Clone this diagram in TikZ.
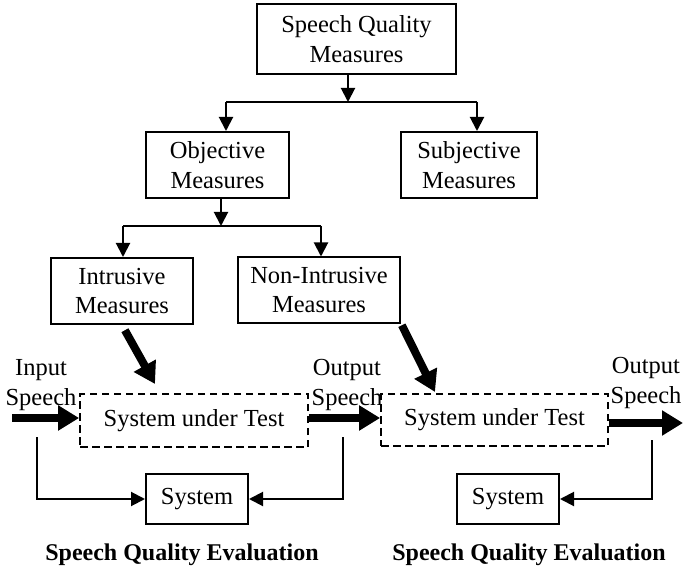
\documentclass[tikz,border=0pt]{standalone}
\usepackage{fontspec}
\setmainfont{Liberation Serif}
\usetikzlibrary{arrows.meta}
\begin{document}
\begin{tikzpicture}[x=1pt,y=-1pt,
  every node/.style={font=\fontsize{24.5}{29.5}\selectfont},
  box/.style={draw, line width=2pt, align=center, inner sep=0pt},
  dbox/.style={draw, line width=1.8pt, dash pattern=on 7.5pt off 4.5pt, inner sep=0pt},
  arr/.style={line width=2pt, -{Triangle[length=14pt,width=14pt]}},
  ln/.style={line width=2pt},
  fat/.style={line width=8pt, -{Triangle[length=21pt,width=24pt]}},
  lab/.style={align=center, inner sep=0pt},
  ev/.style={font=\fontsize{24}{28}\selectfont\bfseries, inner sep=0pt}]
\useasboundingbox (0,0) rectangle (683,572);

% boxes
\node[box, minimum width=199pt, minimum height=70pt] (sqm) at (356.5,39) {Speech Quality\\Measures};
\node[box, minimum width=143pt, minimum height=66pt] (obj) at (217.5,165) {Objective\\Measures};
\node[box, minimum width=136pt, minimum height=66pt] (subj) at (469,165) {Subjective\\Measures};
\node[box, minimum width=142pt, minimum height=66pt] (intr) at (122,291) {Intrusive\\Measures};
\node[box, minimum width=162pt, minimum height=65pt] (nonintr) at (319,290) {Non-Intrusive\\Measures};
\node[dbox, minimum width=228pt, minimum height=53pt] (sut1) at (194,420.5) {System under Test};
\node[dbox, minimum width=227pt, minimum height=52pt] (sut2) at (494.5,420) {System under Test};
\node[box, minimum width=102pt, minimum height=50pt] (sys1) at (197,499) {System};
\node[box, minimum width=102pt, minimum height=50pt] (sys2) at (508,499) {System};

% labels
\node[lab] (inlab) at (41,385) {Input\\Speech};
\node[lab] (outlab1) at (347,385) {Output\\Speech};
\node[lab] (outlab2) at (646,383) {Output\\Speech};
\node[ev] (ev1) at (182,555) {Speech Quality Evaluation};
\node[ev] (ev2) at (529,555) {Speech Quality Evaluation};

% junctions
\coordinate (j1) at (348,102);
\coordinate (j1L) at (226,102);
\coordinate (j1R) at (477,102);
\coordinate (j2) at (221,226);
\coordinate (j2L) at (123,226);
\coordinate (j2R) at (321,226);

\draw[arr] (sqm.south -| j1) -- (j1);
\draw[ln] (j1L) -- (j1R);
\draw[arr] (j1L) -- (j1L |- obj.north);
\draw[arr] (j1R) -- (j1R |- subj.north);

\draw[arr] (obj.south -| j2) -- (j2);
\draw[ln] (j2L) -- (j2R);
\draw[arr] (j2L) -- (j2L |- intr.north);
\draw[arr] (j2R) -- (j2R |- nonintr.north);

% thick arrows
\coordinate (inS) at (12,418);
\coordinate (outE) at (683,423);
\coordinate (tipA) at (155,384);
\coordinate (tipB) at (435,392);
\draw[fat] (inS) -- (sut1.west |- inS);
\draw[fat] (sut1.east |- inS) -- (sut2.west |- inS);
\draw[fat] (sut2.east |- outE) -- (outE);
\draw[fat, shorten <=6pt] (intr.south) -- (tipA);
\draw[fat, shorten <=2pt] (nonintr.south east) -- (tipB);

% feedback lines
\coordinate (fbL) at (37,437);
\coordinate (fbM) at (343,437);
\coordinate (fbR) at (652,440);
\draw[arr] (fbL) |- (sys1.west);
\draw[arr] (fbM) |- (sys1.east);
\draw[arr] (fbR) |- (sys2.east);
\end{tikzpicture}
\end{document}
